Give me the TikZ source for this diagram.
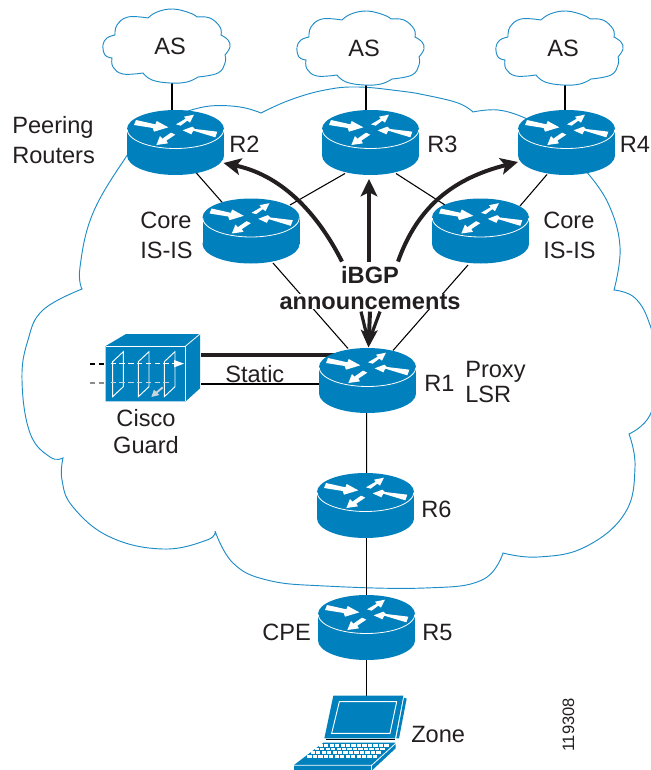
\documentclass[tikz,border=0pt]{standalone}
\usepackage{fontspec}
\setmainfont{Liberation Sans}
\usetikzlibrary{arrows.meta,backgrounds}
\definecolor{ciscoblue}{HTML}{0080BC}
\definecolor{cloudblue}{HTML}{1E8CC6}
\definecolor{inkdark}{HTML}{231F20}
\definecolor{greydash}{HTML}{8C8C8C}
\definecolor{lightarrow}{HTML}{C8D4DC}
\tikzset{
  lbl/.style={font=\fontsize{17.7}{22.5}\selectfont,text=inkdark,inner sep=0pt,align=left},
  lblc/.style={lbl,align=center},
  boxnode/.style={draw=none,fill=none,inner sep=0pt,minimum width=72.75pt,minimum height=48.75pt},
  link/.style={draw=black,line width=0.8pt},
  cloudline/.style={draw=cloudblue,line width=0.7pt,line join=miter},
  bigarrow/.style={draw=inkdark,line width=3pt,-{Stealth[length=13pt,width=12.5pt,inset=3pt]}},
  whitebar/.style={white,line width=0.6pt},
}
\newcommand{\routerart}[1]{%
  \begin{scope}[shift={(#1.center)}]
    \fill[ciscoblue] (0,13) ellipse [x radius=48.5,y radius=19.5];
    \fill[ciscoblue] (-48.5,-13.5) rectangle (48.5,13);
    \fill[ciscoblue] (0,-13.5) ellipse [x radius=48.5,y radius=19];
    \draw[white,line width=0.6pt] plot[domain=0:180,samples=40] ({48.2*cos(\x)},{-13+19*sin(\x)});
    \begin{scope}[shift={(-65.5,-52.5)},scale=1/3]
      \fill[white] (78,90) -- (72,105) -- (128,114) -- (132,125) -- (175,112) -- (140,93) -- (136,103) -- cycle;
      \fill[white] (198,103) -- (212,107) -- (232,92) -- (240,98) -- (252,74) -- (222,80) -- (227,86) -- cycle;
      \fill[white] (322,125) -- (316,142) -- (250,122) -- (244,133) -- (218,121) -- (247,110) -- (255,117) -- cycle;
      \fill[white] (183,128) -- (196,134) -- (169,152) -- (174,160) -- (139,165) -- (150,138) -- (157,146) -- cycle;
    \end{scope}
  \end{scope}}
\newcommand{\cloudart}[2]{%
  \begin{scope}[shift={(#1,#2)}]
    \draw[cloudline] plot[smooth,tension=0.7] coordinates {(-22,-28)(-13,-34)(3,-37)(20,-33)(27,-29)}
      -- plot[smooth,tension=0.7] coordinates {(27,-29)(40,-28)(50,-19)(51,-11)}
      -- plot[smooth,tension=0.7] coordinates {(51,-11)(58,-6)(60,1)(55,9)}
      -- plot[smooth,tension=0.7] coordinates {(55,9)(55,17)(48,27)(28,31)}
      -- plot[smooth,tension=0.7] coordinates {(28,31)(17,36)(0,37)(-18,34)(-27,27)}
      -- plot[smooth,tension=0.7] coordinates {(-27,27)(-47,28)(-57,21)(-58,12)}
      -- plot[smooth,tension=0.7] coordinates {(-58,12)(-65,9)(-67,-1)(-63,-8)(-55,-11)}
      -- plot[smooth,tension=0.7] coordinates {(-55,-11)(-53,-21)(-42,-29)(-22,-28)};
  \end{scope}}
\begin{document}
\begin{tikzpicture}[x=0.75pt,y=-0.75pt]
\useasboundingbox (0,0) rectangle (650,770);
\clip (0,0) rectangle (650,770);
% invisible frames of the devices
\node[boxnode] (R2) at (175.5,142.5) {};
\node[boxnode] (R3) at (370.5,142.5) {};
\node[boxnode] (R4) at (566.5,142.5) {};
\node[boxnode] (CL) at (251,231) {};
\node[boxnode] (CR) at (480.5,231) {};
\node[boxnode] (R1) at (367.5,380.5) {};
\node[boxnode] (R6) at (365.5,505.5) {};
\node[boxnode] (R5) at (366.5,627.5) {};
\node[boxnode,minimum width=70.5pt,minimum height=50.25pt] (FW) at (153,367.5) {};
\node[boxnode,minimum width=83pt,minimum height=56pt] (PC) at (353,733) {};
% clouds' texts
\node[lblc,anchor=base] (AS1) at (170,55) {AS};
\node[lblc,anchor=base] (AS2) at (364,57) {AS};
\node[lblc,anchor=base] (AS3) at (563,57) {AS};
\node[lblc,anchor=base,font=\fontsize{17.7}{19.5}\bfseries] (IBGP) at (370,309) {iBGP\\{\setlength{\fboxsep}{0pt}\colorbox{white}{announcements}}};
\begin{pgfonlayer}{background}
  % big cloud
  \draw[cloudline] plot[smooth,tension=0.7] coordinates {(185,112)(210,106)(240,107)(261,113)}
    -- plot[smooth,tension=0.7] coordinates {(261,113)(290,100)(325,90)(358,87)(400,91)(425,95)(458,103)(473,112)}
    -- plot[smooth,tension=0.7] coordinates {(473,112)(498,110)(525,118)(545,130)};
  \draw[cloudline] plot[smooth,tension=0.7] coordinates {(585,170)(608,203)(620,247)(614,290)}
    -- plot[smooth,tension=0.7] coordinates {(614,290)(635,298)(650,325)(660,370)(650,415)(629,434)}
    -- plot[smooth,tension=0.7] coordinates {(629,434)(635,467)(625,513)(585,547)(538,557)(503,553)}
    -- plot[smooth,tension=0.7] coordinates {(503,553)(482,580)(425,588)(325,586)(267,580)(233,563)(215,531)}
    -- plot[smooth,tension=0.7] coordinates {(215,531)(207,540)(163,549)(110,537)(73,507)(62,480)(63,458)}
    -- plot[smooth,tension=0.7] coordinates {(63,458)(50,457)(30,433)(22,380)(28,340)(43,310)(82,289)}
    -- plot[smooth,tension=0.7] coordinates {(82,289)(80,267)(93,213)(126,157)(135,148)};
  % connectors
  \draw[link] ([shift={(-3.5,0)}]R2.center) -- ([shift={(-3.5,-59.5)}]R2.center);
  \draw[link] ([shift={(-4.5,0)}]R3.center) -- ([shift={(-4.5,-57.5)}]R3.center);
  \draw[link] ([shift={(-1.5,0)}]R4.center) -- ([shift={(-1.5,-57.5)}]R4.center);
  \draw[link] ([shift={(9,17)}]R2.center) -- ([shift={(-16,-14)}]CL.center);
  \draw[link] ([shift={(-25.5,31)}]R3.center) -- ([shift={(39,-26)}]CL.center);
  \draw[link] ([shift={(25.5,31)}]R3.center) -- ([shift={(-35.5,-26)}]CR.center);
  \draw[link] ([shift={(-19.5,32)}]R4.center) -- ([shift={(39.5,-25)}]CR.center);
  \draw[link] ([shift={(22,32)}]CL.center) -- ([shift={(-19.5,-32)}]R1.center);
  \draw[link] ([shift={(-12.5,34)}]CR.center) -- ([shift={(25.5,-30)}]R1.center);
  \draw[link] ([shift={(-0.8,0)}]R1.center) -- ([shift={(1.2,0)}]R6.center);
  \draw[link] ([shift={(1.2,0)}]R6.center) -- ([shift={(0.2,0)}]R5.center);
  \draw[link] ([shift={(0.2,0)}]R5.center) -- ([shift={(13.7,-30)}]PC.center);
  \draw[inkdark,line width=2.4pt] ([shift={(48,-12.5)}]FW.center) -- ([shift={(-30,-25.5)}]R1.center);
  \draw[link,line width=0.9pt] ([shift={(48,16.5)}]FW.center) -- ([shift={(-30,3.5)}]R1.center);
\end{pgfonlayer}
% routers
\routerart{R2}\routerart{R3}\routerart{R4}\routerart{CL}\routerart{CR}\routerart{R1}\routerart{R6}\routerart{R5}
% small clouds
\cloudart{170}{46}\cloudart{364}{48}\cloudart{563}{48}
% Cisco Guard
\begin{scope}[shift={(90,320)},scale=1/3]
  \fill[ciscoblue] (47,78) -- (108,42) -- (330,42) -- (330,205) -- (287,244) -- (47,244) -- cycle;
  \draw[whitebar] (47,78) -- (287,78) -- (287,244);
  \draw[whitebar] (287,78) -- (330,42);
  \foreach \px in {68,145,223}{
    \draw[white,line width=0.7pt] (\px,125) -- (\px+32,95) -- (\px+32,200) -- (\px,230) -- cycle;}
  \draw[black,line width=1.3pt,dash pattern=on 4pt off 2.6pt] (0,131) -- (47,131);
  \draw[greydash,line width=1.3pt,dash pattern=on 4pt off 2.6pt] (0,188) -- (47,188);
  \draw[white,line width=1.2pt,dash pattern=on 4pt off 2.6pt] (62,131) -- (255,131);
  \fill[white] (252,120) -- (282,131) -- (252,142) -- cycle;
  \draw[lightarrow,line width=1.2pt,dash pattern=on 4pt off 2.6pt] (62,188) -- (240,188);
  \draw[lightarrow,line width=1.4pt] (218,202) -- (195,222);
  \fill[lightarrow] (184,231) -- (192,209) -- (208,225) -- cycle;
\end{scope}
% laptop
\begin{scope}[shift={(280,680)},scale=1/3]
  \fill[ciscoblue] (160,47) -- (370,47) -- (345,175) -- (133,175) -- cycle;
  \fill[ciscoblue] (372,53) -- (380,56) -- (357,175) -- (349,175) -- cycle;
  \draw[white,line width=0.7pt] (178,65) -- (350,65) -- (330,160) -- (155,160) -- cycle;
  \draw[black,line width=0.8pt] (137,178) -- (345,178);
  \fill[ciscoblue] (130,188) -- (347,188) -- (347,205) -- (275,272) -- (42,272) -- (42,255) -- cycle;
  \draw[whitebar] (42,256) -- (275,256) -- (347,190);
  \draw[whitebar] (275,256) -- (275,272);
  \foreach \ya/\xa/\xb in {196/116/328,207/104/316,218/92/304,229/82/292}{
    \draw[white,line width=1.9pt,dash pattern=on 3.2pt off 0.9pt] (\xa,\ya) -- (\xb,\ya);}
\end{scope}
% thick arrows
\draw[bigarrow] ([shift={(-28,-26)}]IBGP.center) .. controls (320,218) and (285,176) .. ([shift={(48,20.5)}]R2.center);
\draw[bigarrow] ([shift={(-1,-26)}]IBGP.center) -- ([shift={(-1.5,36.5)}]R3.center);
\draw[bigarrow] ([shift={(28,-26)}]IBGP.center) .. controls (418,205) and (455,178) .. ([shift={(-48.5,19.5)}]R4.center);
\draw[inkdark,line width=2.4pt] ([shift={(-9,24)}]IBGP.center) -- ([shift={(1,-38)}]R1.center);
\draw[inkdark,line width=2.4pt] ([shift={(10,24)}]IBGP.center) -- ([shift={(1,-38)}]R1.center);
\draw[bigarrow] ([shift={(0,24)}]IBGP.center) -- ([shift={(1,-33)}]R1.center);
% labels
\node[lbl,anchor=base west] (PR) at (12,163) {Peering\\Routers};
\node[lbl,anchor=base west] (LR2) at (229,152) {R2};
\node[lbl,anchor=base west] (LR3) at (427,152) {R3};
\node[lbl,anchor=base west] (LR4) at (619.5,152) {R4};
\node[lbl,anchor=base west] (LCL) at (140,258) {Core\\IS-IS};
\node[lbl,anchor=base west] (LCR) at (543,258) {Core\\IS-IS};
\node[lbl,anchor=base west] (LR1) at (424,391) {R1};
\node[lbl,anchor=base west,font=\fontsize{17.7}{18.75}\selectfont] (LPX) at (465,402) {Proxy\\LSR};
\node[lbl,anchor=base west] (LST) at (225,382) {Static};
\node[lblc,anchor=base,font=\fontsize{17.7}{20.25}\selectfont] (LCG) at (146,453) {Cisco\\Guard};
\node[lbl,anchor=base west] (LR6) at (421,517) {R6};
\node[lbl,anchor=base west] (LR5) at (422,640) {R5};
\node[lbl,anchor=base west] (LCPE) at (262,640) {CPE};
\node[lbl,anchor=base west] (LZ) at (411,742) {Zone};
\node[lbl,anchor=base,rotate=90,font=\fontsize{12.4}{14}\selectfont] (NUM) at (574,725) {119308};
\end{tikzpicture}
\end{document}
